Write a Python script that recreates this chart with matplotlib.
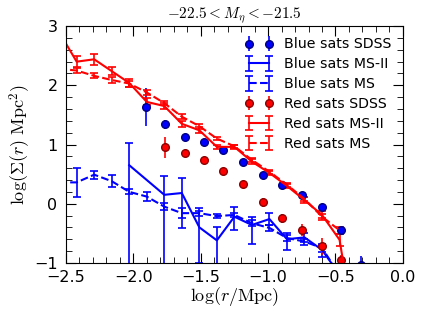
import numpy as np
import matplotlib
matplotlib.use('Agg')
import matplotlib.pyplot as plt
from matplotlib.ticker import MultipleLocator

plt.rcParams['mathtext.fontset'] = 'cm'

# SDSS measurements (points)
x_sdss_blue = [-1.907, -1.763, -1.617, -1.476, -1.333, -1.185, -1.04, -0.895, -0.749, -0.603, -0.458, -0.312]
y_sdss_blue = [1.64, 1.34, 1.13, 1.04, 0.91, 0.71, 0.49, 0.32, 0.15, -0.06, -0.45, -1.03]
e_sdss_blue = [0.32, 0.07, 0.04, 0.04, 0.04, 0.04, 0.04, 0.04, 0.05, 0.06, 0.07, 0.15]

x_sdss_red = [-1.763, -1.617, -1.476, -1.333, -1.185, -1.04, -0.895, -0.749, -0.603, -0.458]
y_sdss_red = [0.95, 0.86, 0.74, 0.55, 0.33, 0.02, -0.25, -0.44, -0.72, -0.95]
e_sdss_red = [0.17, 0.05, 0.05, 0.05, 0.06, 0.08, 0.08, 0.10, 0.14, 0.08]

# Millennium-II model (solid)
x_ms2_red = [-2.55, -2.42, -2.29, -2.16, -2.03, -1.90, -1.77, -1.64, -1.51, -1.38, -1.25,
             -1.12, -0.99, -0.86, -0.73, -0.60, -0.47, -0.42]
y_ms2_red = [2.90, 2.40, 2.44, 2.24, 2.04, 1.72, 1.65, 1.35, 1.24, 0.96, 0.96,
             0.71, 0.52, 0.30, 0.06, -0.19, -0.61, -1.30]
e_ms2_red = [0.08, 0.09, 0.09, 0.07, 0.07, 0.06, 0.05, 0.05, 0.05, 0.04, 0.04,
             0.04, 0.04, 0.04, 0.05, 0.06, 0.10, 0.15]

x_ms2_blue = [-2.03, -1.77, -1.64, -1.51, -1.38, -1.25, -1.12, -0.99, -0.86, -0.73, -0.60, -0.47]
y_ms2_blue = [0.65, 0.15, 0.18, -0.40, -0.62, -0.22, -0.36, -0.26, -0.60, -0.57, -0.78, -1.20]
e_ms2_lo = [3.0, 3.0, 0.59, 0.60, 3.0, 0.22, 0.32, 0.10, 0.18, 0.07, 0.12, 0.20]
e_ms2_hi = [0.37, 0.31, 0.25, 0.33, 0.22, 0.16, 0.14, 0.10, 0.10, 0.07, 0.10, 0.15]

# Millennium model (dashed)
x_ms_red = [-2.55, -2.42, -2.29, -2.16, -2.03, -1.90, -1.77, -1.64, -1.51, -1.38, -1.25,
            -1.12, -0.99, -0.86, -0.73, -0.60, -0.47]
y_ms_red = [2.28, 2.25, 2.16, 2.09, 2.03, 1.88, 1.70, 1.47, 1.31, 1.10, 0.97,
            0.74, 0.54, 0.32, 0.08, -0.22, -0.45]
e_ms_red = [0.05, 0.05, 0.04, 0.05, 0.05, 0.04, 0.04, 0.04, 0.04, 0.03, 0.03,
            0.03, 0.03, 0.03, 0.04, 0.05, 0.06]

x_ms_blue = [-2.55, -2.42, -2.29, -2.16, -2.03, -1.90, -1.77, -1.64, -1.51, -1.38, -1.25,
             -1.12, -0.99, -0.86, -0.73, -0.60, -0.47]
y_ms_blue = [0.36, 0.36, 0.49, 0.38, 0.20, 0.12, -0.05, -0.16, -0.16, -0.21, -0.19,
             -0.33, -0.41, -0.58, -0.64, -0.75, -1.20]
e_ms_blue = [0.20, 0.24, 0.07, 0.10, 0.04, 0.07, 0.06, 0.08, 0.04, 0.04, 0.04,
             0.05, 0.05, 0.05, 0.05, 0.06, 0.08]

fig = plt.figure(figsize=(4.25, 3.19), dpi=100)
ax = fig.add_axes([0.155, 0.176, 0.793, 0.742])

ax.errorbar(x_sdss_blue, y_sdss_blue, yerr=e_sdss_blue, fmt='o', color='b', ms=5.5,
            mec='navy', elinewidth=1.2, capsize=0, label='Blue sats SDSS')
ax.errorbar(x_ms2_blue, y_ms2_blue, yerr=[e_ms2_lo, e_ms2_hi], fmt='-', color='b', lw=1.5,
            elinewidth=1.2, capsize=3, capthick=1.2, label='Blue sats MS-II')
ax.errorbar(x_ms_blue, y_ms_blue, yerr=e_ms_blue, fmt='--', color='b', lw=1.5,
            elinewidth=1.2, capsize=3, capthick=1.2, label='Blue sats MS')
ax.errorbar(x_sdss_red, y_sdss_red, yerr=e_sdss_red, fmt='o', color='r', ms=5.5,
            mec='darkred', elinewidth=1.2, capsize=0, label='Red sats SDSS')
ax.errorbar(x_ms2_red, y_ms2_red, yerr=e_ms2_red, fmt='-', color='r', lw=1.5,
            elinewidth=1.2, capsize=3, capthick=1.2, label='Red sats MS-II')
ax.errorbar(x_ms_red, y_ms_red, yerr=e_ms_red, fmt='--', color='r', lw=1.5,
            elinewidth=1.2, capsize=3, capthick=1.2, label='Red sats MS')

ax.set_xlim(-2.5, 0.0)
ax.set_ylim(-1, 3)
ax.xaxis.set_major_locator(MultipleLocator(0.5))
ax.xaxis.set_minor_locator(MultipleLocator(0.1))
ax.yaxis.set_major_locator(MultipleLocator(1))
ax.yaxis.set_minor_locator(MultipleLocator(0.2))
ax.tick_params(which='both', direction='in', top=True, right=True, labelsize=11.5)
ax.tick_params(which='major', length=7)
ax.tick_params(which='minor', length=4)
ax.tick_params(axis='x', pad=5)
ax.tick_params(axis='y', pad=6)

ax.set_xlabel(r'$\log(r/{\rm Mpc})$', fontsize=13, labelpad=0)
ax.set_ylabel(r'$\log(\Sigma(r)\ {\rm Mpc}^2)$', fontsize=13, labelpad=1)
ax.set_title(r'$-22.5 < M_\eta < -21.5$', fontsize=11, pad=3)

ax.legend(loc='upper right', numpoints=2, frameon=False, fontsize=10.2,
          handlelength=2.0, borderaxespad=0.4, labelspacing=0.42, handletextpad=0.8)

fig.savefig('out.png', dpi=100)
